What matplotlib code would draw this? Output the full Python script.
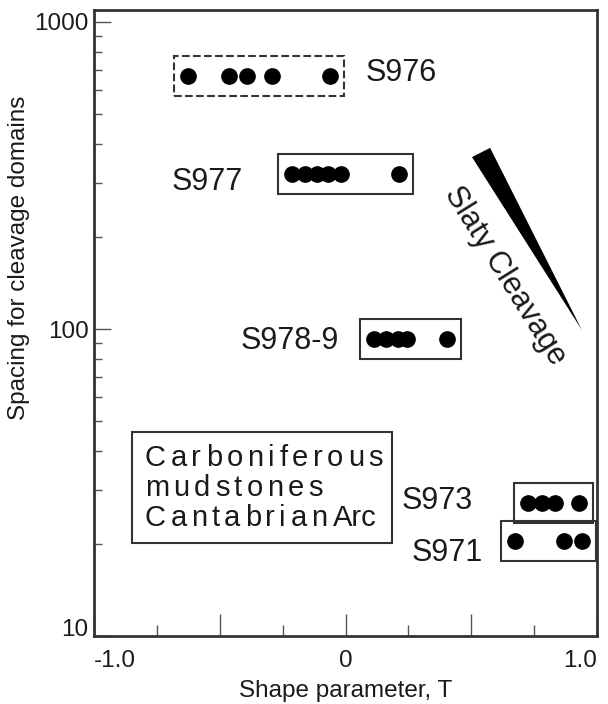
import numpy as np
import matplotlib.pyplot as plt
from matplotlib.patches import Rectangle, Polygon
from matplotlib.font_manager import FontProperties

plt.rcParams['font.family'] = ['Liberation Sans', 'DejaVu Sans']

# data: shape parameter T for each sample, and spacing of cleavage domains
samples = ['S976', 'S977', 'S978-9', 'S973', 'S971']
s976_t = [-0.626, -0.463, -0.392, -0.292, -0.062]
s977_t = [-0.213, -0.161, -0.113, -0.070, -0.018, 0.213]
s978_t = [0.113, 0.161, 0.209, 0.245, 0.404]
s973_t = [0.726, 0.781, 0.833, 0.928]
s971_t = [0.674, 0.869, 0.940]
spacing = [667, 320, 92.8, 27.1, 20.4]
box_style = ['--', '-', '-', '-', '-']
t_lists = [s976_t, s977_t, s978_t, s973_t, s971_t]

W, H = 608, 704
fig = plt.figure(figsize=(W / 100, H / 100), dpi=100)
ax = fig.add_axes([94 / W, 1 - 636 / H, (597 - 94) / W, (636 - 10) / H])
ax.set_xlim(-1, 1)
ax.set_yscale('log')
ax.set_ylim(10, 10 ** (1 + 626 / 307))

ink = '#1a1a1a'

for name, ts, y, ls in zip(samples, t_lists, spacing, box_style):
    ax.plot(ts, [y] * len(ts), 'o', color='black', ms=11, mec='black')
    x0 = min(ts) - 0.055
    x1 = max(ts) + 0.055
    y0 = y / 1.16
    y1 = y * 1.16
    ax.add_patch(Rectangle((x0, y0), x1 - x0, y1 - y0, fill=False,
                           lw=1.5, ls=ls, ec='#333333'))

# sample labels
lab_pos = {'S976': (0.078, 643), 'S977': (-0.690, 284), 'S978-9': (-0.419, 86.1),
           'S973': (0.225, 25.9), 'S971': (0.264, 17.5)}
for name in samples:
    x, y = lab_pos[name]
    ax.text(x, y, name, fontsize=22, ha='left', va='baseline', color=ink)

# slaty cleavage wedge
ax.add_patch(Polygon([(0.503, 363), (0.575, 389), (0.940, 99.2)],
                     closed=True, color='black', lw=0))
ax.text(0.634, 149, 'Slaty Cleavage', fontsize=22, rotation=-58,
        ha='center', va='center', rotation_mode='anchor', color=ink)

# ticks
ax.set_xticks([-1, -0.5, 0, 0.5, 1], labels=['-1.0', '', '0', '', '1.0'])
ax.set_xticks([-0.75, -0.25, 0.25, 0.75], minor=True)
ax.set_yticks([10, 100, 1000], labels=['10', '100', '1000'])
ax.tick_params(axis='x', which='major', direction='in', length=16, width=1,
               labelsize=17.5, pad=10, colors='#555555', labelcolor=ink)
ax.tick_params(axis='x', which='minor', direction='in', length=8, width=1,
               colors='#555555')
ax.tick_params(axis='y', which='major', direction='in', length=12, width=1,
               labelsize=17.5, pad=4, colors='#555555', labelcolor=ink)
ax.tick_params(axis='y', which='minor', direction='in', length=6, width=1,
               colors='#555555')
xt = ax.get_xticklabels()
xt[0].set_ha('left')
xt[-1].set_ha('right')
yt = ax.get_yticklabels()
yt[0].set_va('baseline')
for s in ax.spines.values():
    s.set_linewidth(2)
    s.set_color('#333333')

ax.set_xlabel('Shape parameter, T', fontsize=17.5, color=ink, labelpad=6)
ax.set_ylabel('Spacing for cleavage domains', fontsize=17.5, color=ink)
ax.yaxis.set_label_coords(-0.127, 0.604)

# letter-spaced caption in a box
renderer = fig.canvas.get_renderer()
prop = FontProperties(family=['Liberation Sans'], size=21)


def tracked(s, x0, x1, yb):
    widths = [renderer.get_text_width_height_descent(c, prop, ismath=False)[0] for c in s]
    extra = (x1 - x0 - sum(widths)) / (len(s) - 1)
    x = x0
    for c, w in zip(s, widths):
        fig.text(x / W, 1 - yb / H, c, fontproperties=prop, ha='left',
                 va='baseline', color=ink)
        x += w + extra


tracked('Carboniferous', 145, 383, 466)
tracked('mudstones', 145, 323, 496)
tracked('Cantabrian', 145, 327, 526)
fig.text(333 / W, 1 - 526 / H, 'Arc', fontproperties=prop, ha='left',
         va='baseline', color=ink)
fig.add_artist(Rectangle((132 / W, 1 - 543 / H), 260 / W, 111 / H, fill=False,
                         lw=1.5, ec='#333333', transform=fig.transFigure))

fig.savefig('out.png', dpi=100)
